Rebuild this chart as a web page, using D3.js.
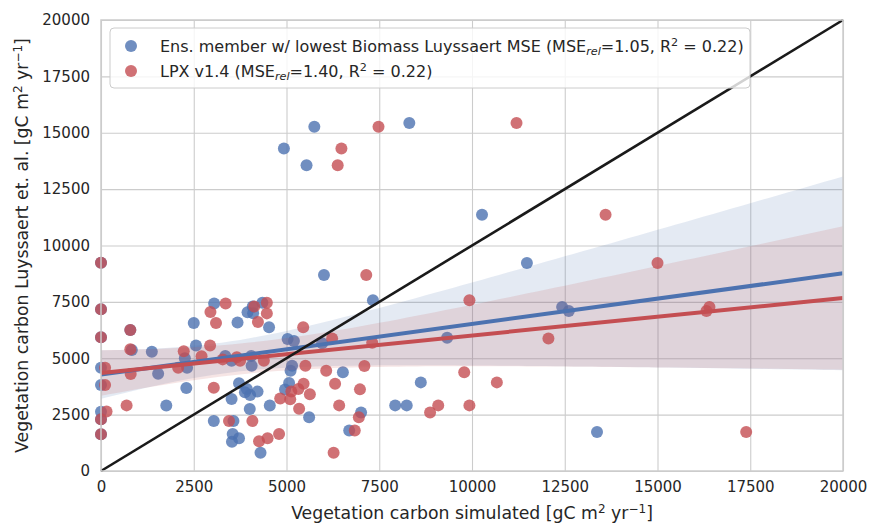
<!DOCTYPE html>
<html><head><meta charset="utf-8">
<script src="https://cdn.jsdelivr.net/npm/d3@7"></script>
<style>
body{margin:0;background:#fff}
text{font-family:"DejaVu Sans",sans-serif;fill:#262626}
</style>
</head><body><svg id="c" width="870" height="526"></svg>
<script>
const xTicks=[0,2500,5000,7500,10000,12500,15000,17500,20000];
const yTicks=[0,2500,5000,7500,10000,12500,15000,17500,20000];
const blueX=[8310,5750,4930,5540,10270,11480,6010,7330,12430,12610,0,0,0,0,0,0,0,0,3050,3680,2500,4090,3950,4350,4100,4530,2560,1370,830,790,5030,5200,5960,9330,2260,3350,3520,4050,4060,2320,1540,5150,5110,6520,3720,2300,3930,5070,4960,8620,3880,4020,4220,3520,1760,4550,4010,7930,8240,7010,3040,3570,5610,6690,3550,3720,3530,4300,13370];
const blueY=[15430,15270,14300,13560,11360,9220,8690,7570,7270,7100,9240,7170,5930,4580,3810,2630,2290,1630,7430,6590,6560,7290,7040,7460,7000,6370,5570,5290,5370,6250,5850,5760,5660,5910,5000,5100,4890,5100,4670,4580,4310,4670,4450,4380,3890,3680,3640,3900,3610,3930,3490,3370,3520,3190,2900,2900,2750,2910,2910,2590,2220,2220,2380,1800,1640,1450,1300,810,1730];
const redX=[11200,7480,6480,6380,13600,15000,7150,9930,16400,16320,0,0,0,110,110,150,0,0,3360,2950,3100,4130,4470,4470,4230,5450,6230,7310,790,790,2230,2940,2710,3280,3660,3750,4390,2080,800,5510,6070,7100,9790,3040,6310,6980,5460,5130,5320,5630,4830,5100,690,6420,5340,9090,8870,9930,6950,3450,4080,6840,4800,4490,4260,6270,17390,12060,10670];
const redY=[15430,15270,14300,13560,11360,9220,8690,7570,7270,7100,9240,7170,5930,4580,3810,2640,2290,1630,7430,7050,6560,7290,7460,6990,6610,6370,5880,5690,6250,5400,5310,5570,5090,4950,5040,4890,4890,4580,4300,4670,4450,4660,4380,3690,3870,3620,3870,3530,3640,3400,3220,3180,2910,2910,2760,2910,2590,2910,2380,2220,2220,1800,1640,1450,1320,810,1730,5880,3930];
const seriesColors=["#4C72B0","#C44E52"];
const legendA=["Ens. member w/ lowest Biomass Luyssaert MSE (MSE","rel","=1.05, R","2"," = 0.22)"];
const legendB=["LPX v1.4 (MSE","rel","=1.40, R","2"," = 0.22)"];

const svg=d3.select("#c");
const L=101,R=843,T=20,B=471;
const x=d3.scaleLinear().domain([0,20000]).range([L,R]);
const y=d3.scaleLinear().domain([0,20000]).range([B,T]);

// grid
svg.append("g").attr("transform",`translate(0,${B})`)
  .call(d3.axisBottom(x).tickValues(xTicks).tickSize(-(B-T)).tickFormat(""))
  .call(g=>{g.select(".domain").remove();g.selectAll("line").attr("stroke","#cccccc").attr("stroke-width",1.1);});
svg.append("g").attr("transform",`translate(${L},0)`)
  .call(d3.axisLeft(y).tickValues(yTicks).tickSize(-(R-L)).tickFormat(""))
  .call(g=>{g.select(".domain").remove();g.selectAll("line").attr("stroke","#cccccc").attr("stroke-width",1.1);});

// tick labels
svg.append("g").attr("transform",`translate(0,${B})`)
  .call(d3.axisBottom(x).tickValues(xTicks).tickSize(0).tickPadding(10).tickFormat(d3.format("d")))
  .call(g=>{g.select(".domain").remove();g.selectAll("text").attr("font-size",15).attr("fill","#262626").attr("font-family","DejaVu Sans");});
svg.append("g").attr("transform",`translate(${L},0)`)
  .call(d3.axisLeft(y).tickValues(yTicks).tickSize(0).tickPadding(11).tickFormat(d3.format("d")))
  .call(g=>{g.select(".domain").remove();g.selectAll("text").attr("font-size",15).attr("fill","#262626").attr("font-family","DejaVu Sans");});

// OLS fit with heteroscedasticity-robust (sandwich) prediction variance
function fit(xs,ys){
  const n=xs.length,mx=d3.mean(xs),my=d3.mean(ys);
  let sxx=0,sxy=0;
  for(let i=0;i<n;i++){sxx+=(xs[i]-mx)**2;sxy+=(xs[i]-mx)*(ys[i]-my);}
  const b=sxy/sxx,a=my-b*mx;
  let m0=0,m1=0,m2=0;
  for(let i=0;i<n;i++){const c=xs[i]-mx,e2=(ys[i]-a-b*xs[i])**2*n/(n-2);m0+=e2;m1+=e2*c;m2+=e2*c*c;}
  const varAt=v=>{const d=v-mx;return m0/(n*n)+2*d*m1/(n*sxx)+d*d*m2/(sxx*sxx);};
  return {a,b,varAt};
}
const xs=d3.range(0,20001,250);
const gBack=svg.append("g"), gLines=svg.append("g");
function drawSeries(X,Y,col){
  const pts=X.map((v,i)=>[v,Y[i]]);
  gBack.append("g").selectAll("circle").data(pts).join("circle")
    .attr("cx",d=>x(d[0])).attr("cy",d=>y(d[1])).attr("r",6)
    .attr("fill",col).attr("fill-opacity",0.8);
  const f=fit(X,Y),t=1.995;
  const band=xs.map(v=>{const yh=f.a+f.b*v,se=Math.sqrt(f.varAt(v));return [v,yh-t*se,yh+t*se];});
  gBack.append("path").datum(band)
    .attr("d",d3.area().x(d=>x(d[0])).y0(d=>y(d[1])).y1(d=>y(d[2])))
    .attr("fill",col).attr("fill-opacity",0.15);
  gLines.append("path").datum([0,20000])
    .attr("d",d3.line().x(d=>x(d)).y(d=>y(f.a+f.b*d)))
    .attr("stroke",col).attr("stroke-width",4).attr("fill","none");
}
drawSeries(blueX,blueY,seriesColors[0]);
drawSeries(redX,redY,seriesColors[1]);

// 1:1 line
gLines.append("path").datum([0,20000])
  .attr("d",d3.line().x(d=>x(d)).y(d=>y(d)))
  .attr("stroke","#1a1a1a").attr("stroke-width",2.6).attr("fill","none");

// frame
svg.append("rect").attr("x",L).attr("y",T).attr("width",R-L).attr("height",B-T)
  .attr("fill","none").attr("stroke","#cccccc").attr("stroke-width",1.5);

// legend
const lg=svg.append("g");
lg.append("rect").attr("x",110).attr("y",28).attr("width",640).attr("height",60).attr("rx",4)
  .attr("fill","#fff").attr("fill-opacity",0.8).attr("stroke","#cccccc").attr("stroke-width",1);
[legendA,legendB].forEach((parts,i)=>{
  const cy=46+i*25;
  lg.append("circle").attr("cx",131).attr("cy",cy).attr("r",6).attr("fill",seriesColors[i]).attr("fill-opacity",0.8);
  const tx=lg.append("text").attr("x",160).attr("y",cy+5.5).attr("font-size",16);
  tx.append("tspan").text(parts[0]);
  tx.append("tspan").text(parts[1]).attr("font-size",11.2).attr("font-style","italic").attr("dy",3);
  tx.append("tspan").text(parts[2]).attr("dy",-3);
  tx.append("tspan").text(parts[3]).attr("font-size",11.2).attr("dy",-6);
  tx.append("tspan").text(parts[4]).attr("dy",6);
});

// axis labels
const xl=svg.append("text").attr("x",(L+R)/2).attr("y",519).attr("text-anchor","middle").attr("font-size",17.3);
xl.append("tspan").text("Vegetation carbon simulated [gC m");
xl.append("tspan").text("2").attr("font-size",12).attr("dy",-6);
xl.append("tspan").text(" yr").attr("dy",6);
xl.append("tspan").text("−1").attr("font-size",12).attr("dy",-6);
xl.append("tspan").text("]").attr("dy",6);
const yl=svg.append("text").attr("transform",`translate(28,${(T+B)/2}) rotate(-90)`).attr("text-anchor","middle").attr("font-size",17.3);
yl.append("tspan").text("Vegetation carbon Luyssaert et. al. [gC m");
yl.append("tspan").text("2").attr("font-size",12).attr("dy",-6);
yl.append("tspan").text(" yr").attr("dy",6);
yl.append("tspan").text("−1").attr("font-size",12).attr("dy",-6);
yl.append("tspan").text("]").attr("dy",6);
</script></body></html>
